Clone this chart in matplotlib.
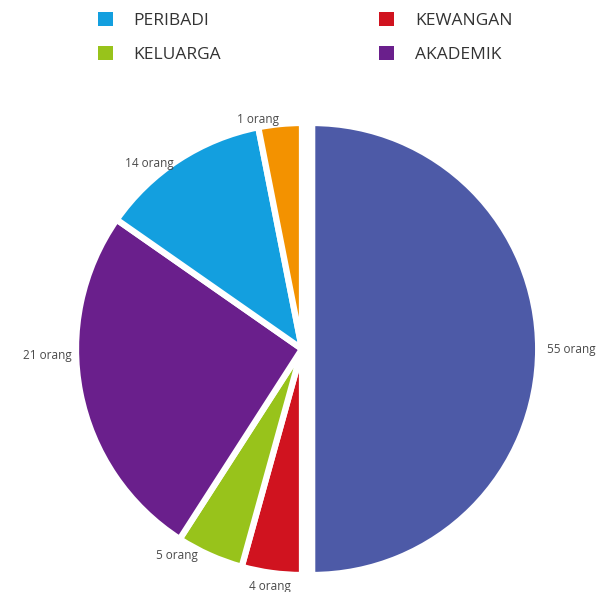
import matplotlib
matplotlib.use("Agg")
import matplotlib.pyplot as plt
from matplotlib.patches import Patch

categories = ["AKADEMIK_UTAMA", "KEWANGAN", "KELUARGA", "AKADEMIK", "PERIBADI", "LAIN"]
slice_sizes = [50.0, 4.3, 4.8, 25.6, 12.2, 3.1]
counts = [55, 4, 5, 21, 14, 1]
colors = ["#4D5AA7", "#D0131F", "#98C31B", "#6A1F8C", "#139FDF", "#F39200"]
explode = [0.045, 0, 0, 0, 0, 0]
legend_names = ["PERIBADI", "KELUARGA", "KEWANGAN", "AKADEMIK"]
legend_colors = ["#139FDF", "#98C31B", "#D0131F", "#6A1F8C"]

plt.rcParams['font.family'] = ['Open Sans', 'DejaVu Sans']

fig = plt.figure(figsize=(6.03, 5.92), dpi=100)
W, H = 603, 592
R = 226.0
cx, cy = 302, 349
span = 1.3
ax = fig.add_axes([(cx - span * R) / W, (H - cy - span * R) / H, 2 * span * R / W, 2 * span * R / H])

labels = [f"{c} orang" for c in counts]
wedges, texts = ax.pie(slice_sizes, colors=colors, explode=explode, startangle=90,
                       counterclock=False, labels=labels, labeldistance=1.04,
                       wedgeprops=dict(edgecolor='white', linewidth=4.5),
                       textprops=dict(fontsize=8.5, color='#4a4a4a'))
ax.set_xlim(-span, span)
ax.set_ylim(-span, span)
ax.set_aspect('equal')
ax.axis('off')
# small nudges of the value labels toward where the reference prints them
nudges = {1: (0.09, -0.02), 2: (-0.035, 0.035), 3: (0.0, None), 4: (0.0, -0.05), 5: (0.0, -0.02)}
for i, (dx, dy) in nudges.items():
    x, y = texts[i].get_position()
    if i == 3:
        texts[i].set_position((x, -0.03))
    else:
        texts[i].set_position((x + dx, y + dy))

leg_handles = [Patch(facecolor=c, edgecolor='none') for c in legend_colors]
fig.legend(leg_handles, legend_names, ncol=2, loc='upper left',
           bbox_to_anchor=(82 / W, 1 + 4 / H), frameon=False,
           fontsize=12.5, handlelength=0.86, handleheight=0.86, handletextpad=1.2,
           columnspacing=9.1, labelspacing=1.0, labelcolor='#333333')

fig.savefig("out.png", dpi=100, facecolor='white')
